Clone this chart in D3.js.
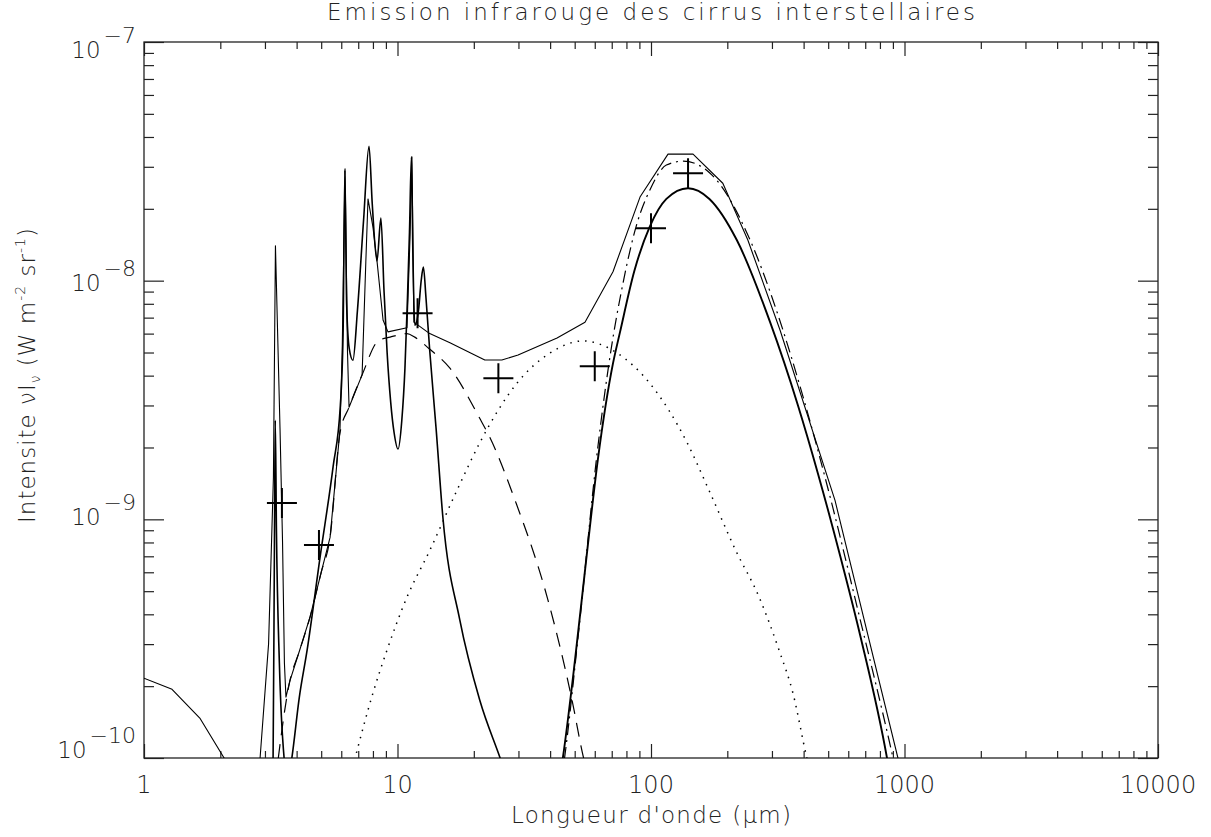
<!DOCTYPE html>
<html>
<head>
<meta charset="utf-8">
<script src="https://cdn.jsdelivr.net/npm/d3@7"></script>
<style>
  body { margin: 0; background: #fff; }
  text { font-family: "DejaVu Sans", sans-serif; font-weight: 200; fill: #222; }
</style>
</head>
<body>
<svg id="chart" width="1211" height="837"></svg>
<script>
// [wavelength (um), nu I_nu (W m-2 sr-1)]

// thin solid: total, coarse sampling
const totalSpec = [
  [1, 2.16e-10], [1.29, 1.94e-10], [1.66, 1.47e-10], [2.07, 1.0e-10], [2.5, 6.5e-11],
  [2.87, 1.0e-10], [3.1, 3.0e-10], [3.24, 1.5e-9], [3.3, 1.4e-8], [3.44, 2.4e-9],
  [3.52, 8e-10], [3.58, 2.5e-10], [3.63, 1.8e-10], [3.76, 2.1e-10], [4.1, 2.8e-10],
  [4.52, 3.9e-10], [5.0, 6.0e-10], [5.42, 8.4e-10], [5.93, 2.37e-9], [6.05, 5e-9],
  [6.21, 2.94e-8], [6.35, 5e-9], [6.44, 2.95e-9], [7.25, 4.03e-9], [7.5, 1.2e-8],
  [7.65, 2.2e-8], [8.0, 1.68e-8], [8.3, 1.21e-8], [8.77, 6.84e-9], [9.17, 6.1e-9],
  [10.9, 6.35e-9], [11.2, 1.5e-8], [11.4, 3.3e-8], [11.6, 6.7e-9], [13.4, 6.0e-9],
  [16.1, 5.5e-9], [22.1, 4.65e-9], [25.8, 4.65e-9], [29.9, 4.88e-9], [42.6, 5.75e-9],
  [54.9, 6.7e-9], [70.8, 1.09e-8], [90.5, 2.24e-8], [116.7, 3.39e-8], [146.5, 3.39e-8],
  [192, 2.56e-8], [241, 1.48e-8], [323, 6.2e-9], [532, 1.2e-9], [942, 1.0e-10], [1000, 7e-11]
];

// solid: aromatic band spectrum
const pahSpec = [
  [3.15, 6e-11], [3.23, 1e-10], [3.27, 8e-10], [3.295, 2.6e-9], [3.33, 9e-10],
  [3.42, 2.5e-10], [3.57, 1e-10], [3.7, 8e-11], [3.83, 1e-10], [4.1, 1.8e-10],
  [4.4, 2.83e-10], [4.95, 6.95e-10], [5.57, 1.66e-9], [5.95, 3.0e-9], [6.1, 6e-9],
  [6.2, 2.9e-8], [6.3, 8e-9], [6.45, 5.2e-9], [6.67, 4.64e-9], [6.95, 7.5e-9],
  [7.35, 1.8e-8], [7.72, 3.66e-8], [7.95, 2.1e-8], [8.3, 1.21e-8], [8.6, 1.83e-8],
  [8.85, 9e-9], [9.1, 5e-9], [9.4, 3.1e-9], [9.7, 2.3e-9], [10.05, 1.97e-9],
  [10.4, 2.6e-9], [10.7, 4.3e-9], [10.95, 8.5e-9], [11.15, 1.6e-8], [11.35, 3.3e-8],
  [11.5, 1.3e-8], [11.7, 6.5e-9], [12.1, 7.5e-9], [12.4, 1.0e-8], [12.65, 1.14e-8],
  [12.95, 8.5e-9], [13.4, 5.1e-9], [14.2, 2.4e-9], [15.1, 1.02e-9], [17.6, 3.8e-10],
  [21.1, 1.75e-10], [25.4, 1e-10], [30, 6e-11]
];

// dashed: small grain continuum
const vsgSpec = [
  [3.3, 8e-11], [3.76, 2.1e-10], [4.1, 2.8e-10], [4.52, 3.9e-10], [5.0, 6.0e-10],
  [5.42, 8.4e-10], [5.93, 2.3e-9], [6.44, 2.95e-9], [7.25, 4.03e-9], [8.4, 5.6e-9],
  [9.35, 5.8e-9], [10.9, 6.0e-9], [11.7, 5.8e-9], [13.3, 5.2e-9], [16.1, 4.3e-9],
  [21.1, 2.65e-9], [23.2, 2.19e-9], [29.1, 1.2e-9], [39.2, 4.6e-10], [48.8, 1.75e-10],
  [54.2, 1e-10], [60, 7e-11]
];

// dotted: warm grains
const warmSpec = [
  [6.0, 6e-11], [6.8, 1e-10], [8.0, 1.87e-10], [9.09, 2.83e-10], [10.9, 4.72e-10],
  [13.4, 7.4e-10], [17.2, 1.33e-9], [21.1, 2.09e-9], [29.6, 3.72e-9], [40, 4.98e-9],
  [54, 5.59e-9], [73.4, 4.98e-9], [98.8, 3.72e-9], [139, 2.09e-9], [169, 1.33e-9],
  [216, 7.4e-10], [267, 4.72e-10], [320, 2.83e-10], [363, 1.87e-10], [412, 1e-10],
  [470, 6e-11]
];

// thick solid: big grains
const bigSpec = [
  [40, 5e-11], [44.9, 1e-10], [50.2, 2.6e-10], [55, 6.2e-10], [61.8, 1.8e-9],
  [70.8, 4.5e-9], [75.5, 6.1e-9], [86, 1.1e-8], [98.8, 1.68e-8], [115, 2.2e-8],
  [140, 2.44e-8], [170, 2.2e-8], [218, 1.48e-8], [295, 6.7e-9], [380, 3.0e-9],
  [456, 1.55e-9], [560, 6.9e-10], [667, 3.3e-10], [853, 1.0e-10], [950, 5e-11]
];

// dash-dot: big grains, second model
const bigAltSpec = [
  [41, 5e-11], [45.6, 1e-10], [52, 3.5e-10], [61.5, 1.95e-9], [69.5, 5.1e-9],
  [77.6, 9.8e-9], [88.1, 1.74e-8], [99, 2.4e-8], [115, 3.05e-8], [134, 3.17e-8],
  [171, 2.82e-8], [246, 1.48e-8], [314, 7.4e-9], [400, 3.2e-9], [508, 1.25e-9],
  [650, 4.3e-10], [901, 1.0e-10], [1000, 6e-11]
];

// crosses: photometric bands
const bandWave = [3.5, 4.9, 12, 25, 60, 100, 140];
const bandFlux = [1.17e-9, 7.8e-10, 7.3e-9, 3.9e-9, 4.38e-9, 1.66e-8, 2.82e-8];

const xMajor = [1, 10, 100, 1000, 10000];
const yMajor = [1e-10, 1e-9, 1e-8, 1e-7];

const svg = d3.select('#chart');
const plotL = 144, plotR = 1158, plotT = 42, plotB = 758;

const x = d3.scaleLog().domain([1, 10000]).range([plotL, plotR]);
const y = d3.scaleLog().domain([1e-10, 1e-7]).range([plotB, plotT]);

const minorOf = majors => majors.slice(0, -1).flatMap(m => d3.range(2, 10).map(k => m * k));
const xMinor = minorOf(xMajor);
const yMinor = minorOf(yMajor);

svg.append('clipPath').attr('id', 'plotClip')
  .append('rect')
  .attr('x', plotL).attr('y', plotT)
  .attr('width', plotR - plotL).attr('height', plotB - plotT);

// ticks on all four sides, pointing inward
const addTicks = (axisFn, scale, values, size, transform) => {
  const g = svg.append('g')
    .attr('transform', transform)
    .call(axisFn(scale).tickValues(values).tickSize(size).tickSizeOuter(0).tickFormat(''));
  g.select('.domain').remove();
  g.selectAll('line').attr('stroke', '#222').attr('stroke-width', 1.2);
};
addTicks(d3.axisBottom, x, xMajor, -14, `translate(0,${plotB})`);
addTicks(d3.axisBottom, x, xMinor, -7, `translate(0,${plotB})`);
addTicks(d3.axisTop, x, xMajor, -14, `translate(0,${plotT})`);
addTicks(d3.axisTop, x, xMinor, -7, `translate(0,${plotT})`);
addTicks(d3.axisLeft, y, yMajor, -20, `translate(${plotL},0)`);
addTicks(d3.axisLeft, y, yMinor, -10, `translate(${plotL},0)`);
addTicks(d3.axisRight, y, yMajor, -20, `translate(${plotR},0)`);
addTicks(d3.axisRight, y, yMinor, -10, `translate(${plotR},0)`);

svg.append('rect')
  .attr('x', plotL).attr('y', plotT)
  .attr('width', plotR - plotL).attr('height', plotB - plotT)
  .attr('fill', 'none').attr('stroke', '#222').attr('stroke-width', 1.3);

// curves
const plot = svg.append('g').attr('clip-path', 'url(#plotClip)');
const series = [
  { data: warmSpec, width: 1.5, dash: '1.5,6', curve: d3.curveMonotoneX },
  { data: vsgSpec, width: 1.2, dash: '14,9', curve: d3.curveMonotoneX },
  { data: bigAltSpec, width: 1.2, dash: '12,5,2,5', curve: d3.curveMonotoneX },
  { data: bigSpec, width: 1.9, dash: null, curve: d3.curveMonotoneX },
  { data: pahSpec, width: 1.6, dash: null, curve: d3.curveMonotoneX },
  { data: totalSpec, width: 1.1, dash: null, curve: d3.curveLinear }
];

series.forEach(s => {
  const line = d3.line()
    .x(d => x(d[0]))
    .y(d => y(d[1]))
    .curve(s.curve);
  plot.append('path')
    .datum(s.data)
    .attr('d', line)
    .attr('fill', 'none')
    .attr('stroke', '#000')
    .attr('stroke-width', s.width)
    .attr('stroke-dasharray', s.dash)
    .attr('stroke-linejoin', 'round');
});

// band points as crosses
const arm = 15;
plot.selectAll('.band')
  .data(d3.zip(bandWave, bandFlux))
  .enter()
  .append('path')
  .attr('class', 'band')
  .attr('d', d => {
    const cx = x(d[0]), cy = y(d[1]);
    return `M${cx - arm},${cy}H${cx + arm}M${cx},${cy - arm}V${cy + arm}`;
  })
  .attr('stroke', '#000')
  .attr('stroke-width', 2);

// x tick labels
svg.selectAll('.xlab')
  .data(xMajor)
  .enter()
  .append('text')
  .attr('class', 'xlab')
  .attr('x', d => x(d))
  .attr('y', 793)
  .attr('text-anchor', 'middle')
  .attr('font-size', 24)
  .text(d => d);

// y tick labels, 10 with superscript exponent
yMajor.forEach((v, i) => {
  const frac = (yMajor.length - 1 - i) / (yMajor.length - 1);
  const base = y(v) + 8 + 8 * (1 - 2 * frac);
  const t = svg.append('text')
    .attr('x', 136)
    .attr('y', base)
    .attr('text-anchor', 'end')
    .attr('font-size', 23);
  t.append('tspan').text('10');
  t.append('tspan')
    .attr('dx', 3)
    .attr('dy', -15)
    .attr('font-size', 22)
    .text('\u2212' + Math.abs(Math.round(Math.log10(v))));
});

// title and axis titles
svg.append('text')
  .attr('x', 651).attr('y', 20)
  .attr('text-anchor', 'middle')
  .attr('font-size', 23)
  .attr('textLength', 648)
  .attr('lengthAdjust', 'spacing')
  .text('Emission infrarouge des cirrus interstellaires');

svg.append('text')
  .attr('x', 651).attr('y', 823)
  .attr('text-anchor', 'middle')
  .attr('font-size', 23)
  .attr('textLength', 280)
  .attr('lengthAdjust', 'spacing')
  .text('Longueur d\'onde (\u03bcm)');

const yTitle = svg.append('text')
  .attr('transform', 'translate(35,375) rotate(-90)')
  .attr('text-anchor', 'middle')
  .attr('font-size', 23)
  .attr('letter-spacing', 1);
yTitle.append('tspan').text('Intensite \u03bdI');
yTitle.append('tspan').attr('font-size', 14).attr('dy', 5).text('\u03bd');
yTitle.append('tspan').attr('dy', -5).text(' (W m');
yTitle.append('tspan').attr('font-size', 14).attr('dy', -10).text('-2');
yTitle.append('tspan').attr('dy', 10).text(' sr');
yTitle.append('tspan').attr('font-size', 14).attr('dy', -10).text('-1');
yTitle.append('tspan').attr('dy', 10).text(')');
</script>
</body>
</html>
